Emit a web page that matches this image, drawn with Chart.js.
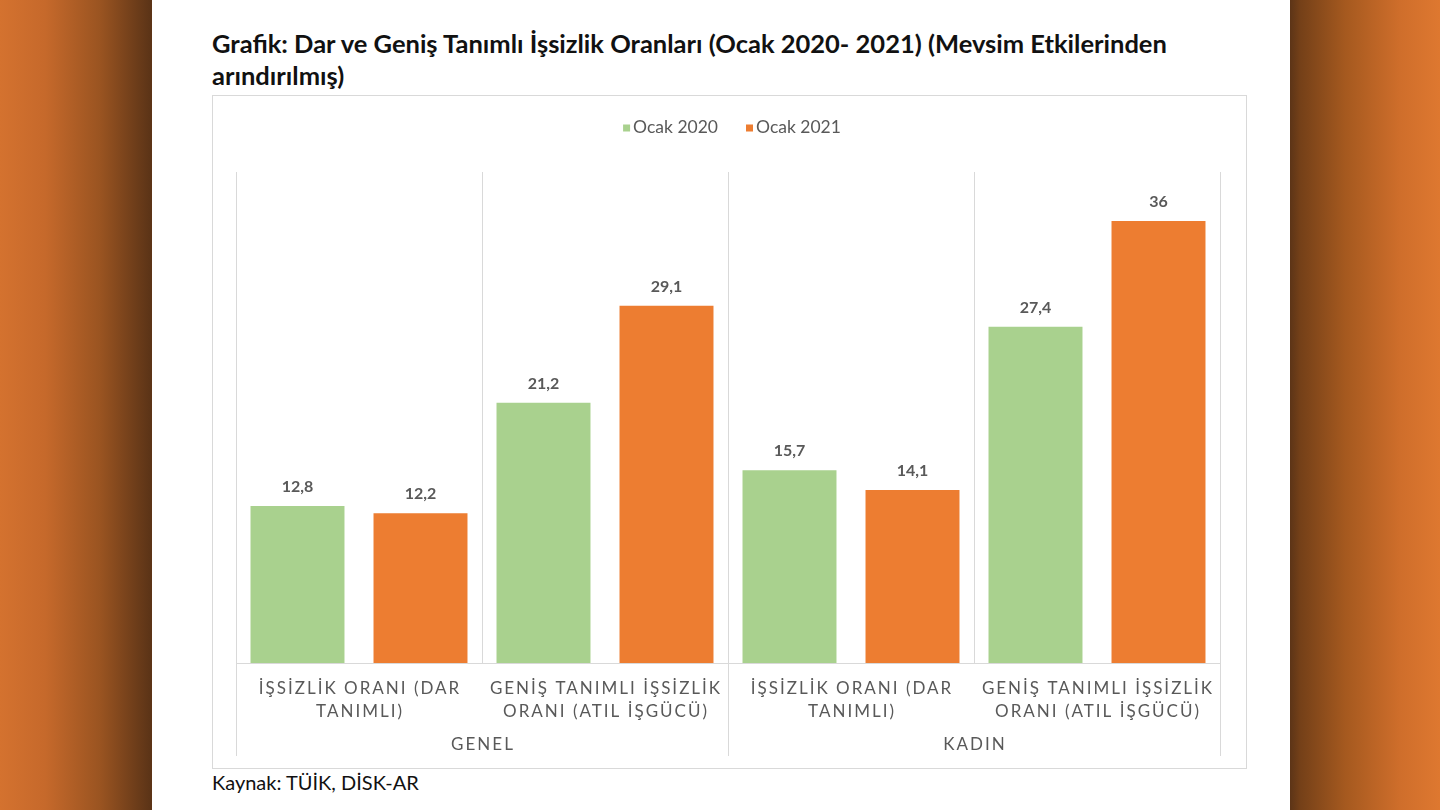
<!DOCTYPE html>
<html>
<head>
<meta charset="utf-8">
<script src="https://cdn.jsdelivr.net/npm/chart.js@4.4.1/dist/chart.umd.min.js"></script>
<style>
  html, body { margin:0; padding:0; width:1440px; height:810px; overflow:hidden; }
  body {
    background: linear-gradient(to right, #d4722f 0px, #c6692b 45px, #9a5421 100px, #5c3417 150px, #5c3417 1290px, #744018 1300px, #a5591f 1345px, #cf6e2b 1400px, #de7830 1440px);
    font-family: Lato, "Open Sans", sans-serif;
  }
  #card { position:absolute; left:152px; top:0; width:1138px; height:810px; background:#fff; }
  #title { position:absolute; left:212px; top:27px; width:1060px; font-weight:bold; font-size:25.5px; line-height:32px; color:#111; white-space:nowrap; }
  #box { position:absolute; left:212px; top:95px; width:1033px; height:672px; border:1px solid #d9d9d9; }
  #src { position:absolute; left:212px; top:770px; font-size:20px; color:#111; }
  #wrap { position:absolute; left:212px; top:95px; width:1035px; height:674px; }
</style>
</head>
<body>
<div id="card"></div>
<div id="title">Grafik: Dar ve Geniş Tanımlı İşsizlik Oranları (Ocak 2020- 2021) (Mevsim Etkilerinden<br>arındırılmış)</div>
<div id="box"></div>
<div id="src">Kaynak: TÜİK, DİSK-AR</div>
<div id="wrap"><canvas id="c" width="1035" height="674"></canvas></div>
<script>
const categories = [
  ["İŞSİZLİK ORANI (DAR", "TANIMLI)"],
  ["GENİŞ TANIMLI İŞSİZLİK", "ORANI (ATIL İŞGÜCÜ)"],
  ["İŞSİZLİK ORANI (DAR", "TANIMLI)"],
  ["GENİŞ TANIMLI İŞSİZLİK", "ORANI (ATIL İŞGÜCÜ)"]
];
const groups = ["GENEL", "KADIN"];
const seriesNames = ["Ocak 2020", "Ocak 2021"];
const ocak2020 = [12.8, 21.2, 15.7, 27.4];
const ocak2021 = [12.2, 29.1, 14.1, 36];
const colors = ["#a9d18e", "#ed7d31"];

const fmt = v => String(v).replace('.', ',');
const GRID = '#d9d9d9';
const TXT = '#595959';

const overlay = {
  id: 'overlay',
  afterDraw(chart) {
    const ctx = chart.ctx;
    const xs = chart.scales.x;
    const area = chart.chartArea;
    const step = xs.getPixelForValue(1) - xs.getPixelForValue(0);
    ctx.save();
    // legend
    ctx.font = '17.5px Lato, sans-serif';
    ctx.textBaseline = 'middle';
    const items = chart.data.datasets.map(d => ({ label: d.label, color: d.backgroundColor, w: ctx.measureText(d.label).width }));
    const box = 7, gapBox = 3, gapItem = 28;
    let total = 0;
    items.forEach((it, i) => { total += box + gapBox + it.w + (i < items.length - 1 ? gapItem : 0); });
    let lx = (area.left + area.right) / 2 - total / 2 + 4;
    const ly = 32;
    items.forEach(it => {
      ctx.fillStyle = it.color;
      ctx.fillRect(lx, ly - box / 2 + 1, box, box);
      lx += box + gapBox;
      ctx.fillStyle = TXT;
      ctx.textAlign = 'left';
      ctx.fillText(it.label, lx, ly);
      lx += it.w + gapItem;
    });
    // extended outer separators
    ctx.strokeStyle = GRID;
    ctx.lineWidth = 1;
    for (let g = 0; g <= groups.length; g++) {
      const x = Math.round(xs.getPixelForValue(g * 2) - step / 2) + 0.5;
      ctx.beginPath();
      ctx.moveTo(x, area.bottom);
      ctx.lineTo(x, area.bottom + 93);
      ctx.stroke();
    }
    // category labels
    ctx.fillStyle = TXT;
    ctx.textAlign = 'center';
    ctx.textBaseline = 'middle';
    ctx.font = '17px Lato, sans-serif';
    ctx.letterSpacing = '2px';
    categories.forEach((lines, i) => {
      const x = xs.getPixelForValue(i);
      lines.forEach((t, k) => ctx.fillText(t, x + 1, area.bottom + 26 + k * 23));
    });
    groups.forEach((t, g) => {
      const x = (xs.getPixelForValue(g * 2) + xs.getPixelForValue(g * 2 + 1)) / 2;
      ctx.fillText(t, x + 1, area.bottom + 82);
    });
    ctx.letterSpacing = '0px';
    // data labels
    ctx.font = 'bold 16px Lato, sans-serif';
    ctx.textBaseline = 'alphabetic';
    chart.data.datasets.forEach((ds, di) => {
      const meta = chart.getDatasetMeta(di);
      meta.data.forEach((el, i) => {
        ctx.fillText(fmt(ds.data[i]), el.x, el.y - 14);
      });
    });
    ctx.restore();
  }
};

new Chart(document.getElementById('c'), {
  type: 'bar',
  data: {
    labels: categories.map(l => l.join(' ')),
    datasets: [
      { label: seriesNames[0], data: ocak2020, backgroundColor: colors[0] },
      { label: seriesNames[1], data: ocak2021, backgroundColor: colors[1] }
    ]
  },
  options: {
    responsive: false,
    devicePixelRatio: 1,
    animation: false,
    layout: { padding: { left: 24, right: 27, top: 77, bottom: 106 } },
    plugins: { legend: { display: false }, tooltip: { enabled: false } },
    datasets: { bar: { categoryPercentage: 1.0, barPercentage: 0.764 } },
    scales: {
      x: {
        ticks: { display: false },
        grid: { display: true, offset: true, drawTicks: false, color: GRID, lineWidth: 1 },
        border: { display: true, color: GRID, width: 1 }
      },
      y: { display: false, min: 0, max: 40 }
    }
  },
  plugins: [overlay]
});
</script>
</body>
</html>
